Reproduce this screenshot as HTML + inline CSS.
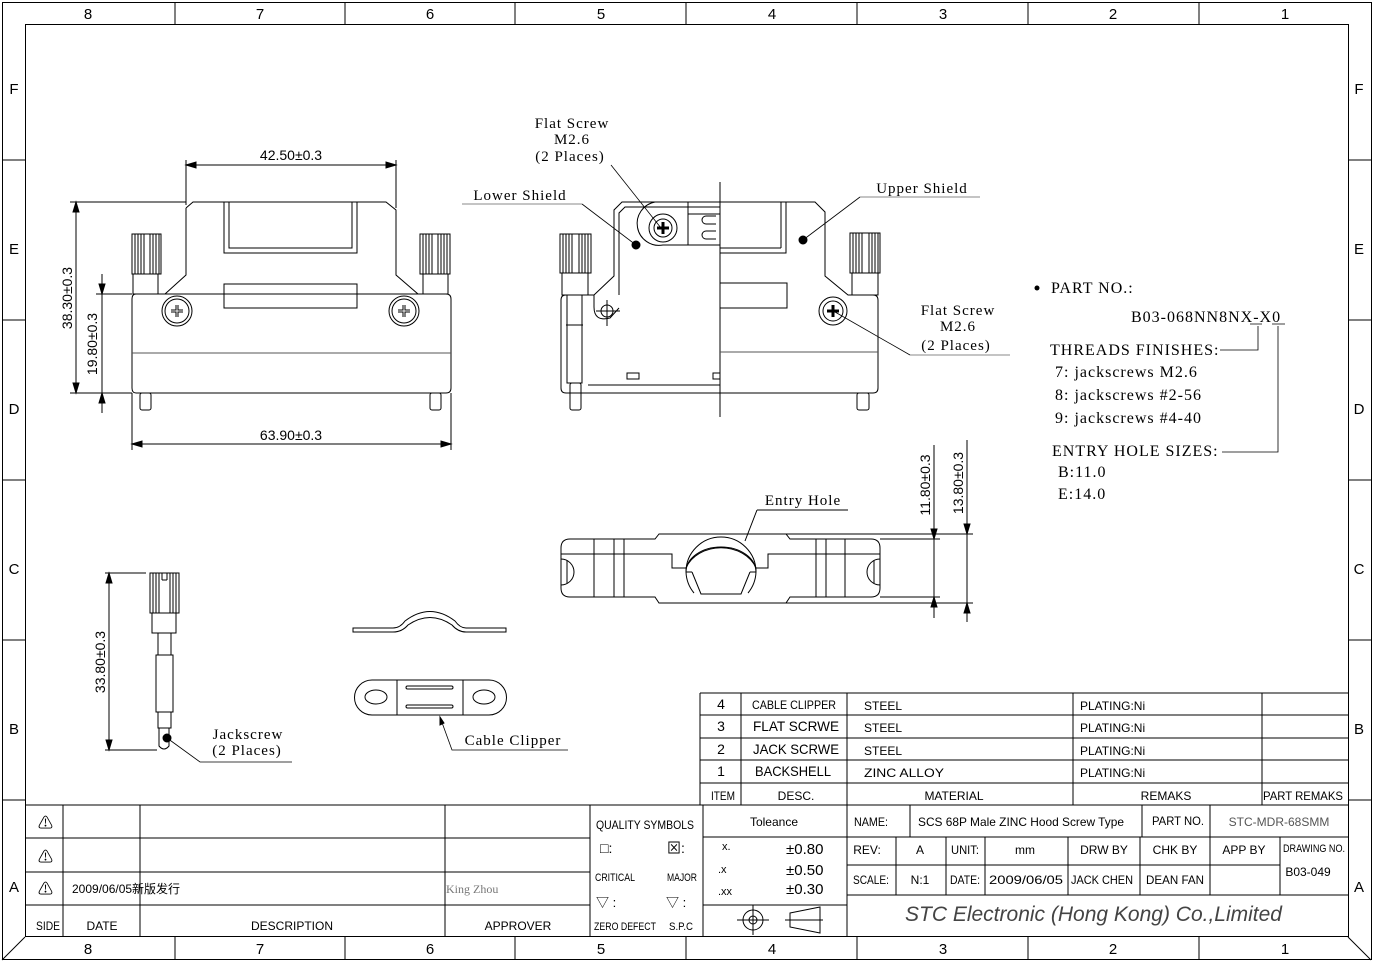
<!DOCTYPE html>
<html><head><meta charset="utf-8"><style>
html,body{margin:0;padding:0;background:#fff;}
svg{display:block;}
.s{font-family:"Liberation Sans",sans-serif;}
.f{font-family:"Liberation Serif",serif;letter-spacing:1px;}
.t{font-family:"Liberation Sans","Noto Sans CJK SC",sans-serif;font-size:12px;}
</style></head><body>
<svg width="1375" height="964" viewBox="0 0 1375 964" xmlns="http://www.w3.org/2000/svg" fill="none" stroke="#000" stroke-width="1">
<rect x="2.5" y="2.5" width="1369" height="957"/>
<rect x="25.5" y="24.5" width="1323" height="912"/>
<line x1="2" y1="960" x2="25" y2="937"/><line x1="1371" y1="960" x2="1348" y2="937"/>
<g>
<line x1="175" y1="2" x2="175" y2="24"/><line x1="345" y1="2" x2="345" y2="24"/><line x1="515" y1="2" x2="515" y2="24"/><line x1="686" y1="2" x2="686" y2="24"/><line x1="857" y1="2" x2="857" y2="24"/><line x1="1028" y1="2" x2="1028" y2="24"/><line x1="1199" y1="2" x2="1199" y2="24"/>
<line x1="175" y1="937" x2="175" y2="960"/><line x1="345" y1="937" x2="345" y2="960"/><line x1="515" y1="937" x2="515" y2="960"/><line x1="686" y1="937" x2="686" y2="960"/><line x1="857" y1="937" x2="857" y2="960"/><line x1="1028" y1="937" x2="1028" y2="960"/><line x1="1199" y1="937" x2="1199" y2="960"/>
<line x1="2" y1="160" x2="25" y2="160"/><line x1="2" y1="320" x2="25" y2="320"/><line x1="2" y1="480" x2="25" y2="480"/><line x1="2" y1="640" x2="25" y2="640"/><line x1="2" y1="800" x2="25" y2="800"/>
<line x1="1348" y1="160" x2="1371" y2="160"/><line x1="1348" y1="320" x2="1371" y2="320"/><line x1="1348" y1="480" x2="1371" y2="480"/><line x1="1348" y1="640" x2="1371" y2="640"/><line x1="1348" y1="800" x2="1371" y2="800"/>
</g>
<g class="s" fill="#000" stroke="none" font-size="15" text-anchor="middle">
<text x="88" y="19">8</text><text x="260" y="19">7</text><text x="430" y="19">6</text><text x="601" y="19">5</text><text x="772" y="19">4</text><text x="943" y="19">3</text><text x="1113" y="19">2</text><text x="1285" y="19">1</text>
<text x="88" y="954">8</text><text x="260" y="954">7</text><text x="430" y="954">6</text><text x="601" y="954">5</text><text x="772" y="954">4</text><text x="943" y="954">3</text><text x="1113" y="954">2</text><text x="1285" y="954">1</text>
<text x="14" y="94">F</text><text x="14" y="254">E</text><text x="14" y="414">D</text><text x="14" y="574">C</text><text x="14" y="734">B</text><text x="14" y="892">A</text>
<text x="1359" y="94">F</text><text x="1359" y="254">E</text><text x="1359" y="414">D</text><text x="1359" y="574">C</text><text x="1359" y="734">B</text><text x="1359" y="892">A</text>
</g>

<!-- FRONT VIEW -->
<g>
<path d="M186 208 L193 202 L386 202 L396 210 L396 275 L418 294 M186 208 L186 275 L165 294"/>
<rect x="224" y="202" width="133" height="51"/><rect x="229" y="202" width="123" height="46"/>
<path d="M136 294 L446 294 Q451 294 451 299 L451 388 Q451 393 446 393 L136 393 Q132 393 132 388 L132 299 Q132 294 136 294 Z"/>
<line x1="132" y1="353" x2="451" y2="353" stroke="#555"/>
<rect x="224" y="284" width="133" height="24"/>
<circle cx="177" cy="311" r="15"/><circle cx="177" cy="311" r="12"/><path d="M171 311 H183 M177 305 V317" stroke-width="3"/><path d="M171 311 H183 M177 305 V317" stroke="#fff" stroke-width="1"/>
<circle cx="404" cy="311" r="15"/><circle cx="404" cy="311" r="12"/><path d="M398 311 H410 M404 305 V317" stroke-width="3"/><path d="M398 311 H410 M404 305 V317" stroke="#fff" stroke-width="1"/>
<rect x="132" y="234" width="29" height="40"/><rect x="133" y="274" width="25" height="20"/>
<path d="M135 234V274M138 234V274M141 234V274M144 234V274M150 234V274M153 234V274M156 234V274M159 234V274"/>
<rect x="420" y="234" width="30" height="40"/><rect x="423" y="274" width="25" height="20"/>
<path d="M423 234V274M426 234V274M429 234V274M432 234V274M438 234V274M441 234V274M444 234V274M447 234V274"/>
<rect x="140" y="393" width="11" height="17" rx="2"/><rect x="430" y="393" width="11" height="17" rx="2"/>
<line x1="186" y1="165" x2="396" y2="165"/><path d="M186 165l10 -3v6zM396 165l-10 -3v6z" fill="#000"/>
<line x1="186" y1="160" x2="186" y2="205"/><line x1="396" y1="160" x2="396" y2="208"/>
<line x1="70" y1="202" x2="186" y2="202"/><line x1="70" y1="393" x2="132" y2="393"/>
<line x1="76" y1="202" x2="76" y2="393"/><path d="M76 202l-3 10h6zM76 393l-3 -10h6z" fill="#000"/>
<line x1="96" y1="294" x2="132" y2="294"/>
<line x1="102" y1="274" x2="102" y2="413"/><path d="M102 294l-3 -10h6zM102 393l-3 10h6z" fill="#000"/>
<line x1="132" y1="393" x2="132" y2="450"/><line x1="451" y1="393" x2="451" y2="450"/>
<line x1="132" y1="444" x2="451" y2="444"/><path d="M132 444l10 -3v6zM451 444l-10 -3v6z" fill="#000"/>
</g>
<g class="s" fill="#000" stroke="none" font-size="14" text-anchor="middle">
<text x="291" y="160">42.50±0.3</text><text x="291" y="440">63.90±0.3</text>
<text transform="translate(72,298) rotate(-90)">38.30±0.3</text>
<text transform="translate(97,344) rotate(-90)">19.80±0.3</text>
<text transform="translate(105,662) rotate(-90)">33.80±0.3</text>
<text transform="translate(930,485) rotate(-90)">11.80±0.3</text>
<text transform="translate(963,483) rotate(-90)">13.80±0.3</text>
</g>

<!-- SIDE VIEW -->
<g>
<line x1="720" y1="182" x2="720" y2="417"/>
<path d="M720 202 L622 202 L614 210 L614 276 L594 295 L566 295 Q561 295 561 300 L561 388 Q561 393 566 393 L720 393"/>
<path d="M720 207 L625 207 L619 213 L619 295 M594 295 L594 307 Q594 322 610 318 L619 308"/>
<line x1="588" y1="385" x2="720" y2="385"/>
<rect x="627" y="373" width="12" height="6"/><rect x="713" y="373" width="7" height="6"/>
<circle cx="607" cy="311" r="6"/><path d="M596 311H620M607 300V326"/>
<rect x="560" y="234" width="31" height="39"/><rect x="562" y="273" width="26" height="22"/>
<path d="M563 234V273M566 234V273M569 234V273M572 234V273M579 234V273M582 234V273M585 234V273M588 234V273"/>
<rect x="567" y="295" width="15" height="88"/><rect x="570" y="383" width="11" height="27" rx="2"/>
<line x1="566" y1="325" x2="583" y2="325"/>
<path d="M655 202 L688 202 L688 245 L663 245 A14 14 0 0 1 655 202 Z"/>
<circle cx="663" cy="228" r="14"/><circle cx="663" cy="228" r="9"/><path d="M657 228H669M663 222V234" stroke-width="3"/>
<path d="M688 214H720M688 245H720M716 216H706a4 4 0 0 0 0 8H716M716 231H706a4 4 0 0 0 0 8H716"/>
<circle cx="636" cy="245" r="4" fill="#000"/><circle cx="803" cy="240" r="4" fill="#000"/>
<path d="M720 202 L815 202 L825 212 L825 276 L848 295 L873 295 Q878 295 878 300 L878 388 Q878 393 873 393 L720 393"/>
<rect x="720" y="202" width="66" height="51"/><line x1="781" y1="202" x2="781" y2="248"/><line x1="720" y1="248" x2="781" y2="248"/>
<rect x="720" y="283" width="67" height="25"/>
<line x1="720" y1="352" x2="878" y2="352" stroke="#555"/>
<circle cx="833" cy="311" r="14"/><circle cx="833" cy="311" r="10"/><path d="M827 311H839M833 305V317" stroke-width="3"/>
<rect x="850" y="233" width="30" height="40"/><rect x="852" y="273" width="26" height="22"/>
<path d="M853 233V273M856 233V273M859 233V273M862 233V273M869 233V273M872 233V273M875 233V273M878 233V273"/>
<rect x="857" y="393" width="12" height="17" rx="2"/>
</g>
<g stroke="#888">
<line x1="462" y1="204" x2="582" y2="204"/><line x1="860" y1="197" x2="980" y2="197"/>
<line x1="910" y1="355" x2="1010" y2="355"/>
</g>
<g stroke-width="0.8">
<line x1="582" y1="204" x2="636" y2="245"/><line x1="860" y1="197" x2="803" y2="240"/>
<line x1="611" y1="165" x2="661" y2="228"/><line x1="910" y1="355" x2="835" y2="312"/>
</g>
<g class="f" fill="#000" stroke="none" font-size="15" text-anchor="middle">
<text x="572" y="128">Flat Screw</text><text x="572" y="144">M2.6</text><text x="570" y="161">(2 Places)</text>
<text x="520" y="200">Lower Shield</text><text x="922" y="193">Upper Shield</text>
<text x="958" y="315">Flat Screw</text><text x="958" y="331">M2.6</text><text x="956" y="350">(2 Places)</text>
<text x="803" y="505">Entry Hole</text>
<text x="248" y="739">Jackscrew</text><text x="247" y="755">(2 Places)</text>
<text x="513" y="745">Cable Clipper</text>
</g>

<!-- PART NO -->
<g class="f" fill="#000" stroke="none" font-size="16">
<circle cx="1037" cy="288" r="2.5" fill="#000"/>
<text x="1051" y="293">PART NO.:</text>
<text x="1131" y="322">B03-068NN8NX-X0</text>
<text x="1050" y="355">THREADS FINISHES:</text>
<text x="1055" y="377">7: jackscrews M2.6</text>
<text x="1055" y="400">8: jackscrews #2-56</text>
<text x="1055" y="423">9: jackscrews #4-40</text>
<text x="1052" y="456">ENTRY HOLE SIZES:</text>
<text x="1058" y="477">B:11.0</text>
<text x="1058" y="499">E:14.0</text>
</g>
<path d="M1220 350H1258V326M1222 452H1278V326M1250 324H1262M1272 324H1285" stroke-width="0.8"/>

<!-- ENTRY HOLE VIEW -->
<g>
<path d="M659 534 L655 539 L570 539 Q561 539 561 548 L561 588 Q561 597 570 597 L655 597 L659 603 L786 603 L790 597 L871 597 Q880 597 880 588 L880 548 Q880 539 871 539 L790 539 L786 534 Z"/>
<path d="M561 554 H672 V568 H686 M756 568 H768 V554 H880"/>
<path d="M594 539V597M614 539V597M624 539V597M816 539V597M826 539V597M845 539V597"/>
<path d="M686 572 A35 35 0 0 1 756 572"/>
<path d="M686 572 A35 35 0 0 0 694 593 M756 572 A35 35 0 0 1 748 593"/>
<path d="M686 568 A37 30 0 0 1 756 568"/>
<path d="M686 572 A35 25 0 0 1 756 572 M686 572 H692 M750 572 H756 M692 572 L701 594 H741 L750 572"/>
<path d="M561 559 A13 13 0 0 1 561 585 M880 559 A13 13 0 0 0 880 585"/>
<path d="M567 560V584M874 560V584"/>
<line x1="786" y1="534" x2="973" y2="534"/><line x1="880" y1="539" x2="940" y2="539"/>
<line x1="880" y1="597" x2="940" y2="597"/><line x1="786" y1="603" x2="973" y2="603"/>
<line x1="934" y1="445" x2="934" y2="618"/><path d="M934 539l-3 -10h6zM934 597l-3 10h6z" fill="#000"/>
<line x1="967" y1="440" x2="967" y2="622"/><path d="M967 534l-3 -10h6zM967 603l-3 10h6z" fill="#000"/>
<line x1="757" y1="510" x2="848" y2="510"/><line x1="757" y1="510" x2="745" y2="541"/>
</g>

<!-- JACKSCREW -->
<g>
<line x1="105" y1="573" x2="146" y2="573"/><line x1="105" y1="750" x2="157" y2="750"/>
<line x1="109" y1="573" x2="109" y2="750"/><path d="M109 573l-3 10h6zM109 750l-3 -10h6z" fill="#000"/>
<rect x="150" y="573" width="29" height="40"/>
<path d="M153 573V613M156 573V613M159 573V613M162 573V580M167 573V580M170 573V613M173 573V613M176 573V613M162 580H167"/>
<rect x="152" y="613" width="24" height="20"/>
<rect x="158" y="633" width="13" height="22"/><rect x="156" y="655" width="17" height="57"/>
<rect x="158" y="712" width="13" height="16"/><path d="M159 728 V746 Q164 752 169 746 V728"/>
<circle cx="167" cy="738" r="4" fill="#000"/>
<path d="M167 738 L200 762 H292" stroke-width="0.8"/>
</g>
<!-- CABLE CLIPPER -->
<g>
<path d="M353 628 H393 Q400 628 405 621 Q430 602 455 621 Q460 628 466 628 H506 V632 H466 Q458 632 452 625 Q430 610 408 625 Q402 632 393 632 H353 Z"/>
<path d="M372 680 H489 A17 17 0 0 1 489 715 H372 A17 17 0 0 1 372 680 Z"/>
<path d="M397 680V715M463 680V715"/>
<ellipse cx="376" cy="697" rx="11" ry="7"/><ellipse cx="484" cy="697" rx="11" ry="7"/>
<rect x="406" y="686" width="47" height="3" rx="1.5"/><rect x="406" y="705" width="47" height="3" rx="1.5"/>
<path d="M440 717 L452 750 H568" stroke-width="0.8"/><path d="M440 717l0 8l4 -2z" fill="#000"/>
</g>

<!-- TABLES -->
<g>
<path d="M700 693H1348M700 715H1348M700 738H1348M700 760H1348M700 783H1348M25 805H1348"/>
<path d="M700 693V805M741 693V805M847 693V805M1073 693V805M1262 693V805"/>
<path d="M25 838H590M25 872H590M25 905H590M63 805V937M140 805V937M445 805V937M590 805V937M703 805V937M847 805V937"/>
<path d="M703 837H1348M703 905H847M847 865H1280M847 895H1348"/>
<path d="M910 805V837M1142 805V837M1210 805V837M896 837V895M946 837V895M985 837V895M1068 837V895M1140 837V895M1210 837V895M1280 837V895"/>
<circle cx="753" cy="920" r="10"/><circle cx="753" cy="920" r="4"/><path d="M737 920H769M753 905V935M785 920H823M790 913 L820 907 V933 L790 927 Z"/>
</g>
<g class="t" fill="#000" stroke="none" text-anchor="middle">
<text x="721" y="709" font-size="14">4</text><text x="721" y="731" font-size="14">3</text><text x="721" y="754" font-size="14">2</text><text x="721" y="776" font-size="14">1</text>
<text x="794" y="709" font-size="12" textLength="84" lengthAdjust="spacingAndGlyphs">CABLE CLIPPER</text><text x="796" y="731" font-size="14" textLength="86" lengthAdjust="spacingAndGlyphs">FLAT SCRWE</text><text x="796" y="754" font-size="14" textLength="86" lengthAdjust="spacingAndGlyphs">JACK SCRWE</text><text x="793" y="776" font-size="14" textLength="76" lengthAdjust="spacingAndGlyphs">BACKSHELL</text>
<text x="723" y="800" textLength="24" lengthAdjust="spacingAndGlyphs">ITEM</text><text x="796" y="800">DESC.</text><text x="954" y="800">MATERIAL</text><text x="1166" y="800">REMAKS</text><text x="1303" y="800" textLength="80" lengthAdjust="spacingAndGlyphs">PART REMAKS</text>
<text x="48" y="930" textLength="24" lengthAdjust="spacingAndGlyphs">SIDE</text><text x="102" y="930">DATE</text><text x="292" y="930">DESCRIPTION</text><text x="518" y="930">APPROVER</text>
<text x="645" y="829" textLength="98" lengthAdjust="spacingAndGlyphs">QUALITY SYMBOLS</text>
<text x="615" y="881" font-size="11" textLength="40" lengthAdjust="spacingAndGlyphs">CRITICAL</text><text x="682" y="881" font-size="11" textLength="30" lengthAdjust="spacingAndGlyphs">MAJOR</text>
<text x="625" y="930" font-size="11" textLength="62" lengthAdjust="spacingAndGlyphs">ZERO DEFECT</text><text x="681" y="930" font-size="11" textLength="24" lengthAdjust="spacingAndGlyphs">S.P.C</text>
<text x="774" y="826">Toleance</text>
<text x="871" y="826" textLength="34" lengthAdjust="spacingAndGlyphs">NAME:</text><text x="1021" y="826" textLength="206" lengthAdjust="spacingAndGlyphs">SCS 68P Male ZINC Hood Screw Type</text><text x="1178" y="825" textLength="52" lengthAdjust="spacingAndGlyphs">PART NO.</text>
<text x="1279" y="826" fill="#555">STC-MDR-68SMM</text>
<text x="867" y="854">REV:</text><text x="920" y="854">A</text><text x="965" y="854" textLength="28" lengthAdjust="spacingAndGlyphs">UNIT:</text><text x="1025" y="854">mm</text><text x="1104" y="854">DRW BY</text><text x="1175" y="854">CHK BY</text><text x="1244" y="854">APP BY</text><text x="1314" y="852" font-size="11" textLength="62" lengthAdjust="spacingAndGlyphs">DRAWING NO.</text>
<text x="871" y="884" textLength="36" lengthAdjust="spacingAndGlyphs">SCALE:</text><text x="920" y="884">N:1</text><text x="965" y="884" textLength="30" lengthAdjust="spacingAndGlyphs">DATE:</text><text x="1026" y="884" textLength="74" lengthAdjust="spacingAndGlyphs">2009/06/05</text><text x="1102" y="884" textLength="62" lengthAdjust="spacingAndGlyphs">JACK CHEN</text><text x="1175" y="884" textLength="58" lengthAdjust="spacingAndGlyphs">DEAN FAN</text><text x="1308" y="876">B03-049</text>
</g>
<g class="t" fill="#000" stroke="none" font-size="14">
<text x="864" y="710">STEEL</text><text x="864" y="732">STEEL</text><text x="864" y="755">STEEL</text><text x="864" y="777" textLength="80" lengthAdjust="spacingAndGlyphs">ZINC ALLOY</text>
<text x="1080" y="710">PLATING:Ni</text><text x="1080" y="732">PLATING:Ni</text><text x="1080" y="755">PLATING:Ni</text><text x="1080" y="777">PLATING:Ni</text>
</g>
<g class="t" fill="#000" stroke="none">
<text x="722" y="850" font-size="11">x.</text><text x="718" y="873" font-size="11">.x</text><text x="718" y="895" font-size="11">.xx</text>
<text x="786" y="854" font-size="15">±0.80</text><text x="786" y="875" font-size="15">±0.50</text><text x="786" y="894" font-size="15">±0.30</text>
<text x="72" y="893">2009/06/05新版发行</text>
<text x="446" y="893" fill="#777" font-family="Liberation Serif,serif">King Zhou</text>
<text x="600" y="853" font-size="14">□:</text><text x="667" y="853" font-size="14">⊠:</text>
<text x="596" y="907" font-size="13">▽ :</text><text x="666" y="907" font-size="13">▽ :</text>
<text x="38" y="828" font-size="15">⚠</text><text x="38" y="862" font-size="15">⚠</text><text x="38" y="894" font-size="15">⚠</text>
</g>
<text x="905" y="921" fill="#444" stroke="none" font-family="Liberation Sans,sans-serif" font-style="italic" font-size="21">STC Electronic (Hong Kong) Co.,Limited</text>
</svg>
</body></html>
